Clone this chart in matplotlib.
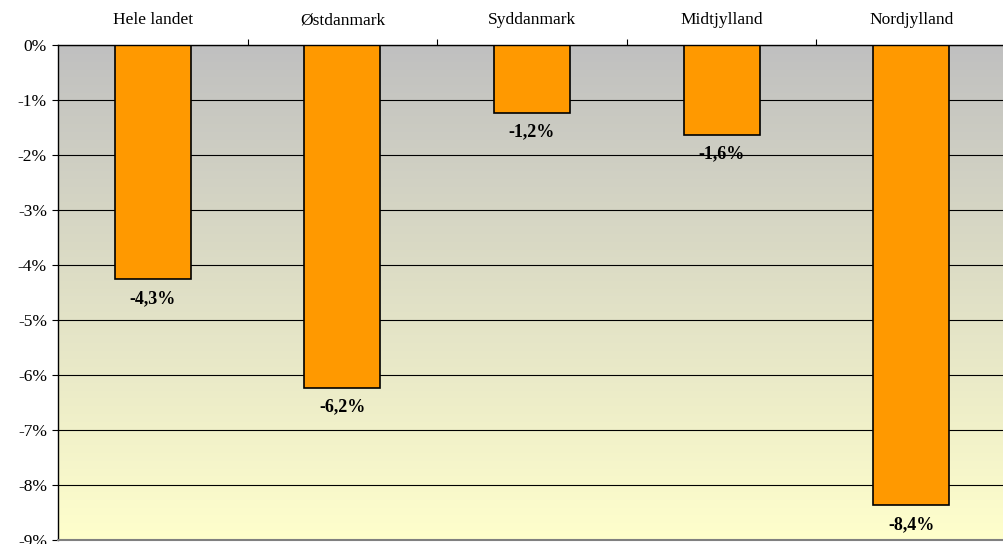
import matplotlib
matplotlib.use("Agg")
import matplotlib.pyplot as plt
import numpy as np
from matplotlib.colors import LinearSegmentedColormap
from matplotlib.ticker import FuncFormatter, FixedLocator

regions = ["Hele landet", "Østdanmark", "Syddanmark", "Midtjylland", "Nordjylland"]
change = [-4.26, -6.23, -1.23, -1.63, -8.36]
y_ticks = list(range(0, -10, -1))

plt.rcParams['font.family'] = ['Liberation Serif', 'DejaVu Serif']

fig = plt.figure(figsize=(10.04, 5.44), dpi=100)
ax = fig.add_axes([58 / 1004, 1 - 540 / 544, 1 - 58 / 1004 + 0.002, 495 / 544])

n = len(regions)
x = np.arange(n)
ax.set_xlim(-0.5, n - 0.5)
ax.set_ylim(-9, 0)

# gradient background: pale yellow at the bottom, gray at the top
cmap = LinearSegmentedColormap.from_list("bg", ["#FFFFCC", "#C0C0C0"])
grad = np.linspace(0, 1, 256).reshape(-1, 1)
ax.imshow(grad, cmap=cmap, aspect="auto", extent=(-0.5, n - 0.5, -9, 0),
          origin="lower", zorder=0)

for yv in y_ticks:
    ax.axhline(yv, color="black", lw=0.8, zorder=1)

ax.bar(x, change, width=0.4, color="#FF9900", edgecolor="black", lw=1.2, zorder=2)

for xi, v in zip(x, change):
    ax.text(xi, v - 0.2, f"{v:.1f}%".replace(".", ","), ha="center", va="top",
            fontsize=13, fontweight="bold", zorder=3)

ax.set_yticks(y_ticks)
ax.yaxis.set_major_formatter(FuncFormatter(lambda v, p: f"{int(round(v))}%"))
ax.tick_params(axis="y", labelsize=12.5, length=4, width=0.8, direction="out", pad=4)

ax.xaxis.set_ticks_position("top")
ax.xaxis.set_label_position("top")
ax.set_xticks(x)
ax.set_xticklabels(regions, fontsize=12.5)
ax.xaxis.set_minor_locator(FixedLocator(np.arange(0.5, n - 0.5, 1)))
ax.tick_params(axis="x", which="major", length=0, pad=12)
ax.tick_params(axis="x", which="minor", length=4, width=0.8, direction="out", top=True, bottom=False)

for side in ["left", "top"]:
    ax.spines[side].set_color("black")
    ax.spines[side].set_linewidth(1.0)
ax.spines["bottom"].set_color("#808080")
ax.spines["bottom"].set_linewidth(1.5)
ax.spines["right"].set_visible(False)

fig.savefig("out.png", dpi=100)
